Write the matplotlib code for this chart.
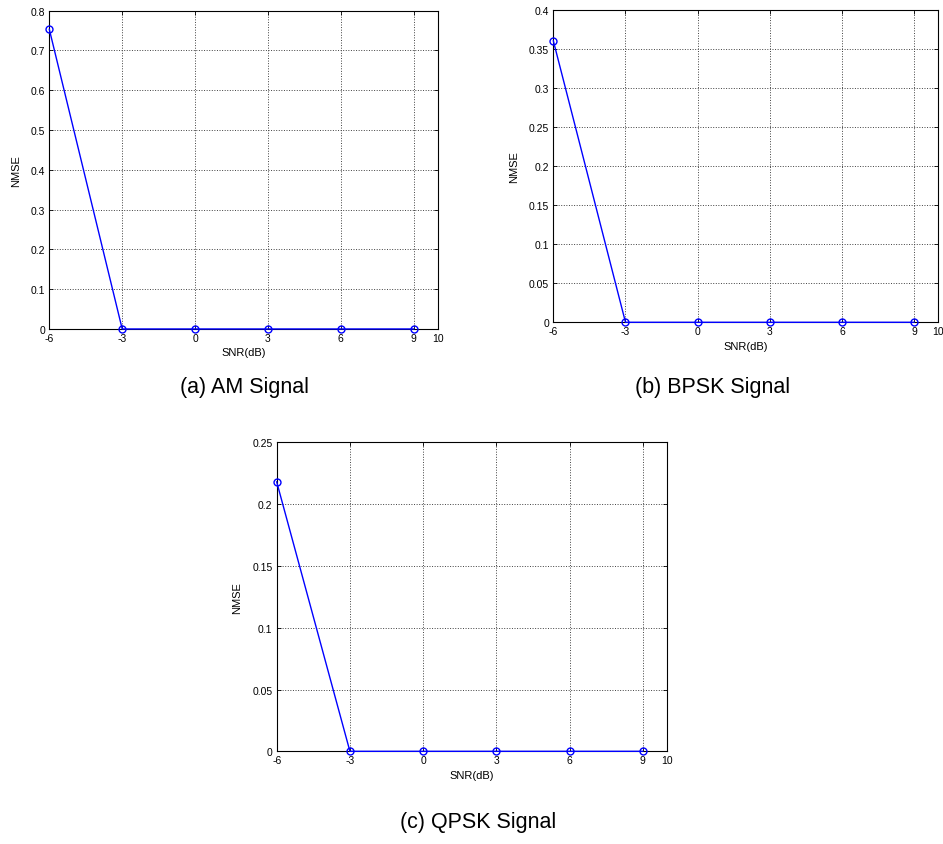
import matplotlib
matplotlib.use("Agg")
import matplotlib.pyplot as plt

plt.rcParams['font.family'] = ['Liberation Sans', 'DejaVu Sans']

snr = [-6, -3, 0, 3, 6, 9]
nmse_am = [0.753, 0.0, 0.0, 0.0, 0.0, 0.0]
nmse_bpsk = [0.360, 0.0, 0.0, 0.0, 0.0, 0.0]
nmse_qpsk = [0.218, 0.0, 0.0, 0.0, 0.0, 0.0]

x_ticks = [-6, -3, 0, 3, 6, 9, 10]
y_ticks_am = [0, 0.1, 0.2, 0.3, 0.4, 0.5, 0.6, 0.7, 0.8]
y_ticks_bpsk = [0, 0.05, 0.1, 0.15, 0.2, 0.25, 0.3, 0.35, 0.4]
y_ticks_qpsk = [0, 0.05, 0.1, 0.15, 0.2, 0.25]

captions = ["(a) AM Signal", "(b) BPSK Signal", "(c) QPSK Signal"]


def draw_panel(ax, y, yticks):
    ax.plot(snr, y, color='blue', linewidth=1.0, marker='o', markersize=5,
            markerfacecolor='none', markeredgecolor='blue', clip_on=False, zorder=3)
    ax.set_xlim(-6, 10)
    ax.set_ylim(yticks[0], yticks[-1])
    ax.set_xticks(x_ticks)
    ax.set_xticklabels([str(t) for t in x_ticks])
    ax.set_yticks(yticks)
    ax.set_yticklabels(['%g' % t for t in yticks])
    ax.grid(True, linestyle=':', color='#404040', linewidth=0.7)
    ax.tick_params(direction='in', top=True, right=True, length=3, width=0.6,
                   labelsize=7.5, pad=3)
    for s in ax.spines.values():
        s.set_linewidth(0.8)
    ax.set_xlabel('SNR(dB)', fontsize=8, labelpad=3)
    ax.set_ylabel('NMSE', fontsize=8, labelpad=7)


fig = plt.figure(figsize=(9.43, 8.45), dpi=100)

ax1 = fig.add_axes([0.0523, 0.6095, 0.4122, 0.3767])
draw_panel(ax1, nmse_am, y_ticks_am)

ax2 = fig.add_axes([0.5868, 0.6174, 0.4080, 0.3700])
draw_panel(ax2, nmse_bpsk, y_ticks_bpsk)

ax3 = fig.add_axes([0.2934, 0.1097, 0.4142, 0.3657])
draw_panel(ax3, nmse_qpsk, y_ticks_qpsk)

fig.text(245 / 943, 1 - 387 / 845, captions[0], fontsize=15.5, ha='center', va='center')
fig.text(713 / 943, 1 - 387 / 845, captions[1], fontsize=15.5, ha='center', va='center')
fig.text(478 / 943, 1 - 823 / 845, captions[2], fontsize=15.5, ha='center', va='center')

fig.savefig('out.png', dpi=100)
